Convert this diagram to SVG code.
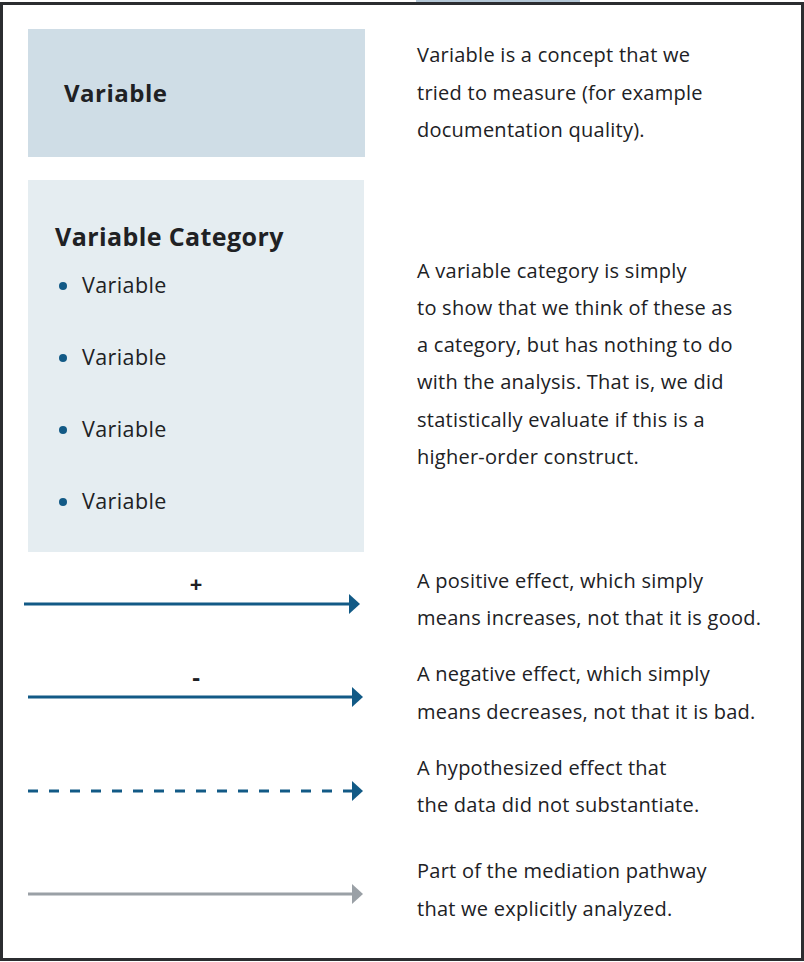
<svg xmlns="http://www.w3.org/2000/svg" width="804" height="962" viewBox="0 0 804 962">
<style>
.t{font-family:"Open Sans","Liberation Sans",sans-serif;font-size:20px;letter-spacing:0.25px;fill:#202124}
.v{font-size:21.5px;letter-spacing:0.4px}
.b{font-family:"Open Sans","Liberation Sans",sans-serif;font-weight:700;fill:#202124}
.ln{stroke:#125a86;stroke-width:3;fill:none}
</style>
<defs>
<marker id="ah" markerWidth="12" markerHeight="20" refX="0" refY="10" orient="auto" markerUnits="userSpaceOnUse"><path d="M0,0 L11,10 L0,20 Z" fill="#125a86"/></marker>
<marker id="ahg" markerWidth="12" markerHeight="20" refX="0" refY="10" orient="auto" markerUnits="userSpaceOnUse"><path d="M0,0 L11,10 L0,20 Z" fill="#9aa0a6"/></marker>
</defs>
<rect x="0" y="0" width="804" height="962" fill="#ffffff"/>
<rect x="416" y="0" width="164" height="3" fill="#b4c7d6"/>
<rect x="1.5" y="3.5" width="801" height="956" fill="none" stroke="#2b2d30" stroke-width="3"/>
<g id="variable">
<rect x="28" y="29" width="337" height="128" fill="#cfdde6"/>
<text class="b" x="64" y="102" font-size="24" letter-spacing="0.5">Variable</text>
</g>
<g id="variable-desc">
<text class="t" x="417" y="62">Variable is a concept that we</text>
<text class="t" x="417" y="100">tried to measure (for example</text>
<text class="t" x="417" y="137">documentation quality).</text>
</g>
<g id="variable-category">
<rect x="28" y="180" width="336" height="372" fill="#e5edf1"/>
<text class="b" x="55" y="246" font-size="25" letter-spacing="0.4">Variable Category</text>
<circle cx="63" cy="286" r="4" fill="#125a86"/>
<text class="t v" x="82" y="293">Variable</text>
<circle cx="63" cy="358" r="4" fill="#125a86"/>
<text class="t v" x="82" y="365">Variable</text>
<circle cx="63" cy="430" r="4" fill="#125a86"/>
<text class="t v" x="82" y="437">Variable</text>
<circle cx="63" cy="502" r="4" fill="#125a86"/>
<text class="t v" x="82" y="509">Variable</text>
</g>
<g id="category-desc">
<text class="t" x="417" y="278">A variable category is simply</text>
<text class="t" x="417" y="315">to show that we think of these as</text>
<text class="t" x="417" y="352">a category, but has nothing to do</text>
<text class="t" x="417" y="389">with the analysis. That is, we did</text>
<text class="t" x="417" y="427">statistically evaluate if this is a</text>
<text class="t" x="417" y="464">higher-order construct.</text>
</g>
<g id="connectors">
<line class="ln" x1="24" y1="604" x2="349" y2="604" marker-end="url(#ah)"/>
<text class="b" x="196" y="592" font-size="22" text-anchor="middle">+</text>
<line class="ln" x1="28" y1="697" x2="352" y2="697" marker-end="url(#ah)"/>
<text class="b" x="196" y="686" font-size="24" text-anchor="middle">-</text>
<line class="ln" x1="28" y1="791" x2="352" y2="791" stroke-dasharray="10 11" marker-end="url(#ah)"/>
<line x1="28" y1="894" x2="352" y2="894" stroke="#9aa0a6" stroke-width="3" marker-end="url(#ahg)"/>
</g>
<g id="legend-desc">
<text class="t" x="417" y="588">A positive effect, which simply</text>
<text class="t" x="417" y="625">means increases, not that it is good.</text>
<text class="t" x="417" y="681">A negative effect, which simply</text>
<text class="t" x="417" y="719">means decreases, not that it is bad.</text>
<text class="t" x="417" y="775">A hypothesized effect that</text>
<text class="t" x="417" y="812">the data did not substantiate.</text>
<text class="t" x="417" y="878">Part of the mediation pathway</text>
<text class="t" x="417" y="916">that we explicitly analyzed.</text>
</g>
</svg>
